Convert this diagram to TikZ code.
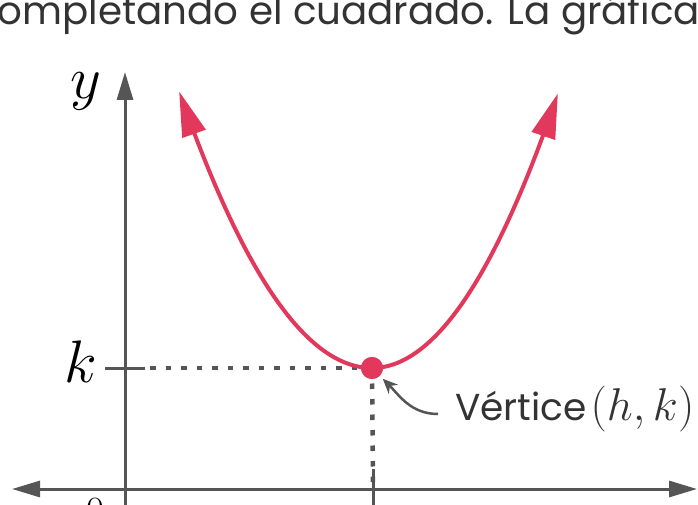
\RequirePackage{fix-cm}
\documentclass[tikz,border=0pt]{standalone}
\usepackage{fontspec}
\newfontfamily\pop{Poppins}
\usetikzlibrary{arrows.meta}
\definecolor{axisgray}{RGB}{85,85,85}
\definecolor{parared}{RGB}{226,56,92}
\definecolor{txtgray}{RGB}{51,51,51}
\newlength\preL
\tikzset{
  axisline/.style={draw=axisgray, line width=3pt},
  axtip/.style={-{Triangle[length=28pt,width=16pt]}},
  dashline/.style={draw=axisgray, line width=4.5pt, dash pattern=on 5.5pt off 10pt},
  para/.style={draw=parared, line width=4pt, -{Triangle[length=45pt,width=24pt]}},
  annot/.style={draw=axisgray, line width=2.5pt, -{Stealth[length=15pt,width=13pt]}},
  bigmath/.style={font=\fontsize{60}{60}\selectfont, inner sep=0pt},
  toptext/.style={font=\pop\fontsize{38.8}{46}\selectfont},
}
\begin{document}
\settowidth{\preL}{\pop\fontsize{38.8}{46}\selectfont completando el cuadrado.\ }%
\begin{tikzpicture}[x=1pt,y=-1pt]
\useasboundingbox (0,0) rectangle (698,505);
\clip (0,0) rectangle (698,505);
% top text (cut off)
\pgfmathsetmacro\preLx{\preL}
\node[anchor=base west, inner sep=0pt, text=txtgray, toptext] (top) at ({504-\preLx},25) {completando el cuadrado. La gráfica};
% axes
\coordinate (xl) at (12,489);
\coordinate (xr) at (697,489);
\coordinate (yb) at (125,520);
\coordinate (yt) at (125,72);
\draw[axisline, {Triangle[length=28pt,width=16pt]}-{Triangle[length=28pt,width=16pt]}] (xl) -- (xr);
\draw[axisline, axtip] (yb) -- (yt);
% ticks
\coordinate (kt1) at (105,368);
\coordinate (kt2) at (145,368);
\coordinate (ht1) at (373,469);
\coordinate (ht2) at (373,512);
\draw[axisline] (kt1) -- (kt2);
\draw[axisline] (ht1) -- (ht2);
% labels
\node[bigmath] (ylab) at (86,91) {$y$};
\node[bigmath, anchor=base] (klab) at (80.5,382) {$k$};
\node[font=\fontsize{40}{40}\selectfont, anchor=north, inner sep=0pt] (zero) at (95,499) {$0$};
% vertex
\node[circle, fill=parared, minimum size=22pt, inner sep=0pt] (V) at (372,368) {};
\coordinate (kd) at (150,368);
\coordinate (hd) at (373,483);
\draw[dashline] (kd) -- (V.center);
\draw[dashline] (V.center) -- (hd);
% parabola
\draw[para] plot[domain=0:1, samples=60, variable=\t] ({372-193*\t}, {368-277*\t*\t});
\draw[para] plot[domain=0:1, samples=60, variable=\t] ({372+186*\t}, {368-275*\t*\t});
\node[circle, fill=parared, minimum size=22pt, inner sep=0pt] at (V) {};
% annotation
\node[anchor=base west, inner sep=0pt, text=txtgray, font=\pop\fontsize{37.5}{44}\selectfont] (lab) at (455,420) {Vértice\hspace{4pt}{\fontsize{46}{46}\selectfont$(h,k)$}};
\draw[annot, shorten >=4pt] ([shift={(-17,-6)}]lab.base west) to[out=180, in=-45] (V);
\end{tikzpicture}
\end{document}
